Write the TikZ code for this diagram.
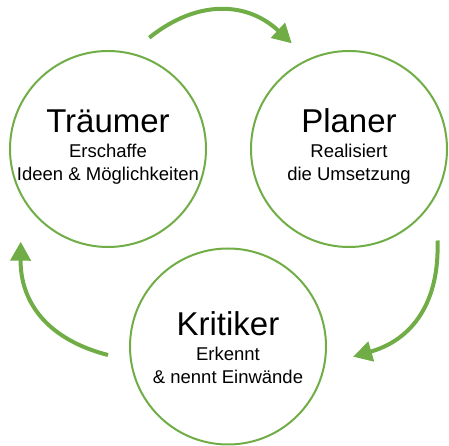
\documentclass[tikz,border=0pt]{standalone}
\usepackage{fontspec}
\setmainfont{Liberation Sans}
\usetikzlibrary{arrows.meta}
\definecolor{grn}{RGB}{112,173,71}
\begin{document}
\begin{tikzpicture}[x=1pt,y=1pt,
  ring/.style={circle,draw=grn,line width=2pt,minimum size=196pt,inner sep=0pt},
  title/.style={anchor=base,font=\fontsize{33}{36}\selectfont,inner sep=0pt},
  sub/.style={anchor=base,font=\fontsize{18.5}{22}\selectfont,inner sep=0pt},
  cyc/.style={draw=grn,line width=4pt,looseness=1.1,-{Triangle[length=19pt,width=20pt]}}]
\useasboundingbox (0,0) rectangle (449,446);
\node[ring] (traeumer) at (108,297) {};
\node[ring] (planer) at (349,297) {};
\node[ring] (kritiker) at (228,99.5) {};
\node[title] (tT) at (108,313) {Träumer};
\node[sub] (tT1) at (108,288.5) {Erschaffe};
\node[sub] (tT2) at (108,265.5) {Ideen \& Möglichkeiten};
\node[title] (tP) at (349,313) {Planer};
\node[sub] (tP1) at (349,288.5) {Realisiert};
\node[sub] (tP2) at (349,265.5) {die Umsetzung};
\node[title] (tK) at (228,110.5) {Kritiker};
\node[sub] (tK1) at (228,85.3) {Erkennt};
\node[sub] (tK2) at (228,62.7) {\& nennt Einwände};
\coordinate (a1s) at (149.3,408.3);
\coordinate (a1e) at (291.7,402.7);
\coordinate (a2s) at (437.5,205.5);
\coordinate (a2e) at (353,89.3);
\coordinate (a3s) at (108,91);
\coordinate (a3e) at (20.7,204.3);
\draw[cyc] (a1s) to[bend left=41] (a1e);
\draw[cyc] (a2s) to[bend left=38] (a2e);
\draw[cyc] (a3s) to[bend left=38] (a3e);
\end{tikzpicture}
\end{document}
